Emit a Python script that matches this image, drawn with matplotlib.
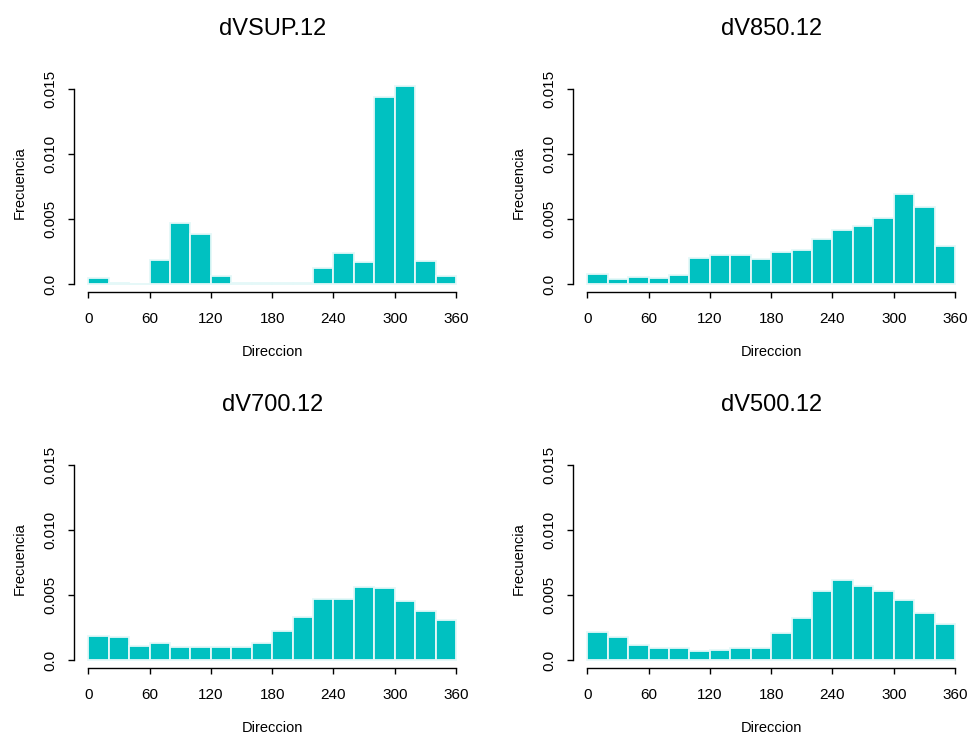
import numpy as np
import matplotlib
matplotlib.use("Agg")
import matplotlib.pyplot as plt

plt.rcParams['font.family'] = ['Liberation Sans', 'DejaVu Sans']

# Direction bins (degrees) and density per bin for each level
breaks = np.arange(0, 380, 20)

titles = ["dVSUP.12", "dV850.12", "dV700.12", "dV500.12"]

dens_sup = [0.00044, 0.00010, 0.00003, 0.00184, 0.00468, 0.00386, 0.00059, 0.00010, 0.00005,
            0.00005, 0.00010, 0.00120, 0.00240, 0.00166, 0.01433, 0.01518, 0.00174, 0.00059]
dens_850 = [0.00074, 0.00036, 0.00056, 0.00044, 0.00072, 0.00202, 0.00223, 0.00225, 0.00192,
            0.00243, 0.00261, 0.00343, 0.00415, 0.00445, 0.00504, 0.00691, 0.00594, 0.00292]
dens_700 = [0.00182, 0.00174, 0.00108, 0.00128, 0.00100, 0.00102, 0.00097, 0.00102, 0.00128,
            0.00220, 0.00333, 0.00471, 0.00466, 0.00558, 0.00550, 0.00453, 0.00376, 0.00307]
dens_500 = [0.00212, 0.00174, 0.00115, 0.00090, 0.00090, 0.00072, 0.00074, 0.00095, 0.00095,
            0.00207, 0.00322, 0.00527, 0.00614, 0.00568, 0.00527, 0.00458, 0.00363, 0.00276]

all_dens = [dens_sup, dens_850, dens_700, dens_500]

x_ticks = [0, 60, 120, 180, 240, 300, 360]
y_ticks = [0.0, 0.005, 0.010, 0.015]
y_tick_labels = ["0.0", "0.005", "0.010", "0.015"]

fig = plt.figure(figsize=(9.68, 7.37), dpi=100)

W, H = 968.0, 737.0
# panel rectangles in pixels: left, top, right, bottom
rects = [
    (73.6, 74.1, 470.7, 292.1),
    (572.6, 74.1, 969.7, 292.1),
    (73.6, 450.1, 470.7, 668.1),
    (572.6, 450.1, 969.7, 668.1),
]

for (l, t, r, b), title, dens in zip(rects, titles, all_dens):
    ax = fig.add_axes([l / W, (H - b) / H, (r - l) / W, (b - t) / H])
    ax.bar(breaks[:-1], dens, width=20, align='edge',
           color='#00c1c1', edgecolor='#e4f8f8', linewidth=1.3)
    ax.set_xlim(-14.4, 374.4)
    ax.set_ylim(-0.00062, 0.01612)

    for s in ['top', 'right']:
        ax.spines[s].set_visible(False)
    ax.spines['bottom'].set_bounds(0, 360)
    ax.spines['left'].set_bounds(0, 0.015)
    for s in ['bottom', 'left']:
        ax.spines[s].set_linewidth(1.0)

    ax.set_xticks(x_ticks)
    ax.set_yticks(y_ticks)
    ax.set_yticklabels(y_tick_labels)
    ax.tick_params(axis='both', direction='out', length=4, width=1,
                   labelsize=11)
    ax.tick_params(axis='x', pad=10)
    ax.tick_params(axis='y', pad=8, labelrotation=90)
    for lbl in ax.get_yticklabels():
        lbl.set_va('center')

    ax.set_xlabel("Direccion", fontsize=10.5, labelpad=14)
    ax.set_ylabel("Frecuencia", fontsize=10.5, labelpad=12)
    ax.set_title(title, fontsize=17, pad=28)

fig.savefig("out.png", dpi=100)
